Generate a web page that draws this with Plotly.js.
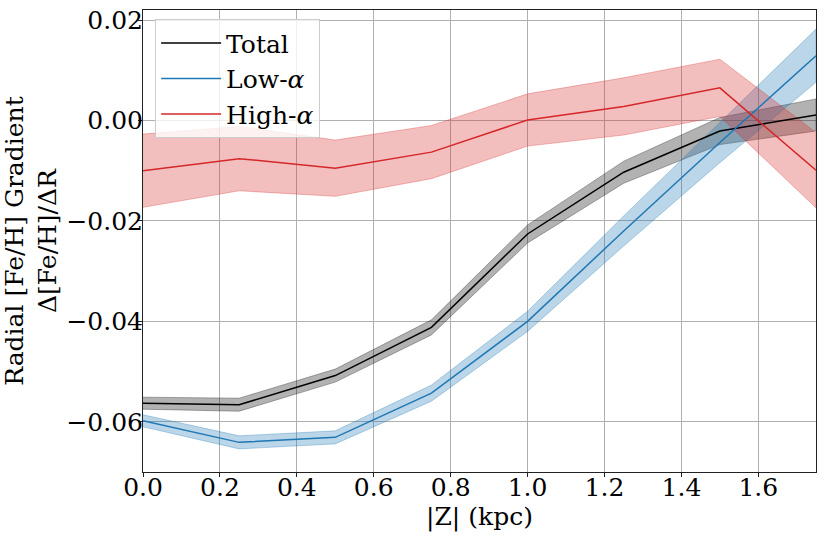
<!DOCTYPE html>
<html>
<head>
<meta charset="utf-8">
<script src="https://cdn.plot.ly/plotly-3.0.1.min.js"></script>
<style>html,body{margin:0;padding:0;background:#fff;}#chart{width:826px;height:538px;}</style>
</head>
<body>
<div id="chart"></div>
<script>
const zBins = [0.0, 0.25, 0.5, 0.75, 1.0, 1.25, 1.5, 1.75];

const totalMean = [-0.0563, -0.0566, -0.0508, -0.0412, -0.0226, -0.0103, -0.0021, 0.0011];
const totalErr  = [0.0012, 0.0013, 0.0013, 0.0015, 0.0018, 0.0022, 0.0027, 0.0032];

const lowMean = [-0.0598, -0.0641, -0.0631, -0.0543, -0.0400, -0.0220, -0.0044, 0.0129];
const lowErr  = [0.0012, 0.0013, 0.0013, 0.0016, 0.0020, 0.0030, 0.0040, 0.0053];

const highMean = [-0.0100, -0.0076, -0.0095, -0.0063, 0.0001, 0.0028, 0.0065, -0.0099];
const highErr  = [0.0073, 0.0064, 0.0056, 0.0053, 0.0052, 0.0057, 0.0057, 0.0075];

const xTicks = [0, 0.2, 0.4, 0.6, 0.8, 1.0, 1.2, 1.4, 1.6];
const xTickText = ['0.0', '0.2', '0.4', '0.6', '0.8', '1.0', '1.2', '1.4', '1.6'];
const yTicks = [-0.06, -0.04, -0.02, 0.0, 0.02];

const seriesNames = ['Total', 'Low-<i>α</i>', 'High-<i>α</i>'];
const lineColors = ['#000000', '#1f77b4', '#d62728'];
const bandColors = ['rgba(0,0,0,0.3)', 'rgba(31,119,180,0.3)', 'rgba(214,39,40,0.3)'];
const means = [totalMean, lowMean, highMean];
const errs = [totalErr, lowErr, highErr];

function band(mean, err, fill) {
  const upper = mean.map((m, i) => m + err[i]);
  const lower = mean.map((m, i) => m - err[i]);
  return {
    x: zBins.concat(zBins.slice().reverse()),
    y: upper.concat(lower.slice().reverse()),
    type: 'scatter', mode: 'lines', fill: 'toself',
    fillcolor: fill, line: {color: fill, width: 1},
    showlegend: false, hoverinfo: 'skip'
  };
}

const traces = [];
for (let k = 0; k < 3; k++) traces.push(band(means[k], errs[k], bandColors[k]));
for (let k = 0; k < 3; k++) {
  traces.push({
    x: zBins, y: means[k], type: 'scatter', mode: 'lines',
    name: seriesNames[k], line: {color: lineColors[k], width: 1.5}
  });
}
// invisible helper trace so the tick-label overlay axes are drawn
traces.push({x: [zBins[0]], y: [totalMean[0]], xaxis: 'x2', yaxis: 'y2', type: 'scatter', mode: 'markers',
  marker: {opacity: 0}, showlegend: false, hoverinfo: 'skip'});

const fontFam = '"DejaVu Serif", serif';
const fs = 25;
const xRange = [0, 1.75];
const yRange = [-0.07, 0.022];
const layout = {
  width: 826, height: 538,
  margin: {l: 143, r: 10, t: 10, b: 66},
  paper_bgcolor: '#fff', plot_bgcolor: '#fff',
  font: {family: fontFam, size: fs, color: '#000'},
  showlegend: true,
  legend: {
    x: 0.018, y: 0.98, xanchor: 'left', yanchor: 'top',
    bgcolor: 'rgba(255,255,255,0.8)', bordercolor: '#cccccc', borderwidth: 1,
    itemwidth: 60,
    font: {family: fontFam, size: fs, color: '#000'}
  },
  xaxis: {
    range: xRange, tickvals: xTicks, showticklabels: false,
    showgrid: true, gridcolor: '#b0b0b0', gridwidth: 1,
    zeroline: false, showline: true, linecolor: '#222', linewidth: 1, mirror: true,
    ticks: 'outside', ticklen: 4, tickcolor: '#222'
  },
  yaxis: {
    range: yRange, tickvals: yTicks, showticklabels: false,
    showgrid: true, gridcolor: '#b0b0b0', gridwidth: 1,
    zeroline: false, showline: true, linecolor: '#222', linewidth: 1, mirror: true,
    ticks: 'outside', ticklen: 4, tickcolor: '#222'
  },
  xaxis2: {
    range: xRange, tickvals: xTicks, ticktext: xTickText,
    overlaying: 'x', anchor: 'free', position: 0.004, side: 'bottom',
    showgrid: false, zeroline: false, showline: false, ticks: '',
    title: {text: '|Z| (kpc)', font: {family: fontFam, size: fs}, standoff: 2}
  },
  yaxis2: {
    range: yRange, tickvals: yTicks, tickformat: '.2f',
    overlaying: 'y', anchor: 'free', position: 0, side: 'left',
    showgrid: false, zeroline: false, showline: false, ticks: '',
    title: {text: 'Radial [Fe/H] Gradient<br>Δ[Fe/H]/ΔR', font: {family: fontFam, size: fs}, standoff: 10}
  }
};

Plotly.newPlot('chart', traces, layout, {displayModeBar: false, staticPlot: true});
</script>
</body>
</html>
